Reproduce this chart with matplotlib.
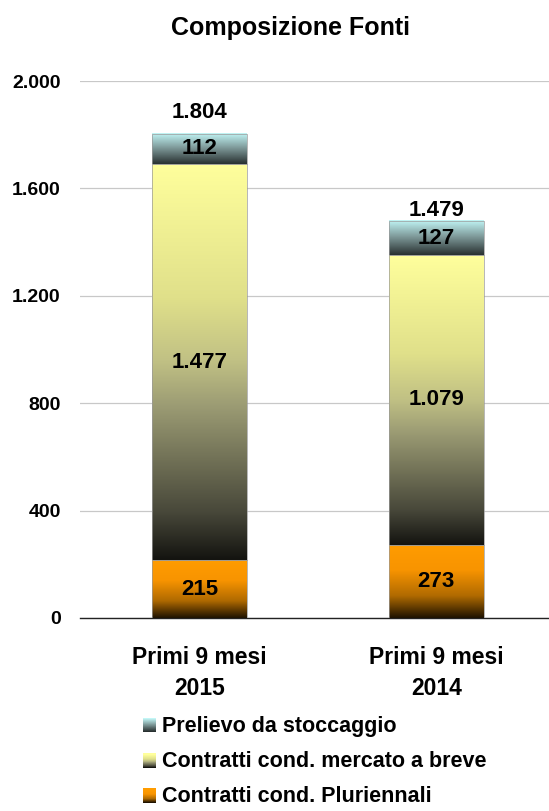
import numpy as np
import matplotlib
matplotlib.use('Agg')
import matplotlib.pyplot as plt
from matplotlib.patches import Rectangle
from matplotlib.legend_handler import HandlerBase
from matplotlib.colors import LinearSegmentedColormap

plt.rcParams['font.family'] = ['Liberation Sans', 'DejaVu Sans']
plt.rcParams['font.weight'] = 'bold'

# dati
periodi = ['Primi 9 mesi\n2015', 'Primi 9 mesi\n2014']
pluriennali = [215, 273]
breve = [1477, 1079]
stoccaggio = [112, 127]
totali = [1804, 1479]
serie_nomi = ['Contratti cond. Pluriennali', 'Contratti cond. mercato a breve',
              'Prelievo da stoccaggio']
y_ticks = [0, 400, 800, 1200, 1600, 2000]

# gradienti (dal basso verso l'alto)
gradienti = [
    LinearSegmentedColormap.from_list('arancio', [(0, '#1e1200'), (0.3, '#b06a00'),
                                                  (0.65, '#f89400'), (1, '#ff9c00')]),
    LinearSegmentedColormap.from_list('giallo', [(0, '#141410'), (0.12, '#48483a'),
                                                 (0.39, '#9c9c74'), (0.5, '#c0c084'),
                                                 (0.66, '#e0e08a'), (1, '#ffff9c')]),
    LinearSegmentedColormap.from_list('ciano', [(0, '#283030'), (0.5, '#7a9494'),
                                                (1, '#c2f6f6')]),
]


def fmt(v):
    return f'{v:,}'.replace(',', '.')


class GradientHandler(HandlerBase):
    def __init__(self, cmap):
        super().__init__()
        self.cmap = cmap

    def create_artists(self, legend, orig_handle, xdescent, ydescent, width,
                       height, fontsize, trans):
        n = 14
        side = height * 0.92
        x0 = xdescent + width - side
        y0 = -ydescent + (height - side) / 2 - 1
        artists = []
        for i in range(n):
            r = Rectangle((x0, y0 + side * i / n), side, side / n + 0.3,
                          facecolor=self.cmap(i / (n - 1)), edgecolor='none',
                          transform=trans)
            artists.append(r)
        return artists


fig = plt.figure(figsize=(5.49, 8.11), dpi=100)
ax = fig.add_axes([0.146, 0.238, 0.86, 0.662])

x = np.arange(len(periodi))
larghezza = 0.40
n_grad = 256
grad = np.linspace(0, 1, n_grad).reshape(-1, 1)

for i in range(len(periodi)):
    base = 0
    for k, valori in enumerate([pluriennali, breve, stoccaggio]):
        v = valori[i]
        ax.imshow(grad, cmap=gradienti[k], aspect='auto', origin='lower',
                  extent=(x[i] - larghezza / 2, x[i] + larghezza / 2, base, base + v),
                  zorder=3, interpolation='bilinear')
        ax.add_patch(Rectangle((x[i] - larghezza / 2, base), larghezza, v,
                               facecolor='none', edgecolor='#9a9a9a', lw=0.5, zorder=4))
        ax.text(x[i], base + v / 2, fmt(v), ha='center', va='center',
                fontsize=16, fontweight='bold', color='black', zorder=5)
        base += v

# totali sopra le colonne
scarti = [80, 38]
for i, t in enumerate(totali):
    ax.text(x[i], t + scarti[i], fmt(t), ha='center', va='center',
            fontsize=16, fontweight='bold', color='black', zorder=5)

ax.set_xlim(-0.503, 1.49)
ax.set_ylim(0, 2000)
ax.set_yticks(y_ticks)
ax.set_yticklabels([fmt(t) for t in y_ticks], fontsize=14, fontweight='bold')
ax.set_xticks(x)
ax.set_xticklabels(periodi, fontsize=16.5, fontweight='bold', linespacing=1.45)
ax.tick_params(axis='both', length=0)
ax.tick_params(axis='y', pad=14)
ax.tick_params(axis='x', pad=20)
ax.grid(axis='y', color='#c8c8c8', lw=0.9, zorder=0)
for s in ['top', 'right', 'left']:
    ax.spines[s].set_visible(False)
ax.spines['bottom'].set_color('#222222')
ax.spines['bottom'].set_linewidth(1.0)
ax.set_axisbelow(True)

fig.text(0.530, 0.965, 'Composizione Fonti', ha='center', va='center',
         fontsize=18, fontweight='bold')

# legenda
proxies = [Rectangle((0, 0), 1, 1) for _ in range(3)]
ordine = [2, 1, 0]
leg = fig.legend([proxies[k] for k in ordine], [serie_nomi[k] for k in ordine],
                 handler_map={proxies[k]: GradientHandler(gradienti[k]) for k in range(3)},
                 loc='upper left', bbox_to_anchor=(0.238, 0.131), frameon=False,
                 prop={'size': 15.5, 'weight': 'bold'}, handlelength=0.7,
                 handletextpad=0.25, labelspacing=0.66, borderpad=0)

fig.savefig('out.png', dpi=100)
